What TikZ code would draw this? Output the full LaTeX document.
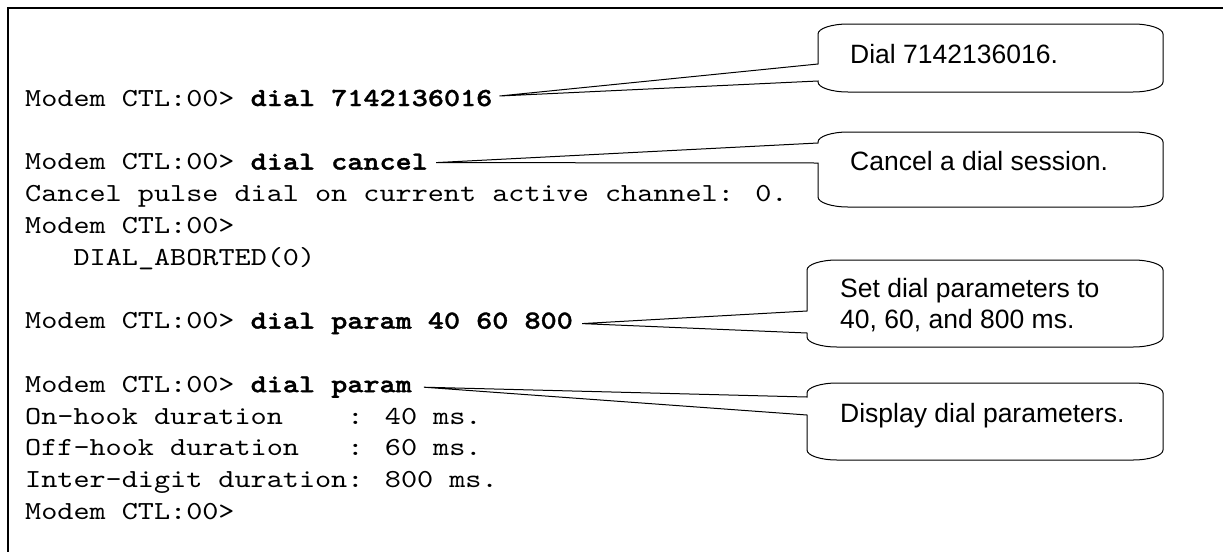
\documentclass[tikz,border=0pt]{standalone}
\usepackage{fontspec}
\setmainfont{Liberation Sans}
\newfontfamily\termfont[FakeStretch=1.18, BoldFont=lmmonolt10-bold.otf, BoldFeatures={FakeStretch=1.18, FakeBold=1.3}]{lmmono10-regular.otf}
\usetikzlibrary{calc}

\tikzset{
  term/.style={font=\termfont\fontsize{26}{31.8}\selectfont, inner sep=0pt, anchor=base west},
  note/.style={font=\fontsize{26.5}{31}\selectfont, inner sep=0pt, anchor=base west, align=left},
  balloon/.style={draw=black, line width=1pt, fill=white, line join=miter},
  frame/.style={line width=2pt}
}

% Rounded callout box with a wedge on its left side.
% #1 left, #2 top, #3 right, #4 bottom, #5 wedge top, #6 wedge bottom, #7 tip
\newcommand\balloonpath[7]{%
  \draw[balloon] (#1,#5) -- (#7) -- (#1,#6) -- (#1,#4-10)
    .. controls (#1,#4-4.5) and (#1+13.5,#4) .. (#1+30,#4)
    -- (#3-30,#4) .. controls (#3-13.5,#4) and (#3,#4-4.5) .. (#3,#4-10)
    -- (#3,#2+10) .. controls (#3,#2+4.5) and (#3-13.5,#2) .. (#3-30,#2)
    -- (#1+30,#2) .. controls (#1+13.5,#2) and (#1,#2+4.5) .. (#1,#2+10) -- cycle;}

\begin{document}
\begin{tikzpicture}[x=1pt, y=-1pt]
  \fill[white] (0,0) rectangle (1223,552);
  \useasboundingbox (0,0) rectangle (1223,552);

  % frame
  \draw[frame] (1223,8) -- (8,8) -- (8,552);

  % terminal session
  \node[term] (c1) at (25,106)   {Modem CTL:00> \textbf{dial 7142136016}};
  \node[term] (c2) at (25,169.6) {Modem CTL:00> \textbf{dial cancel}};
  \node[term] (r1) at (25,201.4) {Cancel pulse dial on current active channel: 0.};
  \node[term] (r2) at (25,233.2) {Modem CTL:00>};
  \node[term] (r3) at (73.4,265) {DIAL\_ABORTED(0)};
  \node[term] (c3) at (25,328.6) {Modem CTL:00> \textbf{dial param 40 60 800}};
  \node[term] (c4) at (25,392.2) {Modem CTL:00> \textbf{dial param}};
  \node[term] (r4) at (25,424)   {On-hook duration\hphantom{0000}: 40 ms.};
  \node[term] (r5) at (25,455.8) {Off-hook duration\hphantom{000}: 60 ms.};
  \node[term] (r6) at (25,487.6) {Inter-digit duration: 800 ms.};
  \node[term] (r7) at (25,519.4) {Modem CTL:00>};

  % callout tips
  \coordinate (t1) at ($(c1.base east)+(7,-10)$);
  \coordinate (t2) at ($(c2.base east)+(8,-7)$);
  \coordinate (t3) at ($(c3.base east)+(9,-5)$);
  \coordinate (t4) at ($(c4.base east)+(12,-5)$);

  % callouts
  \balloonpath{818}{24}{1163}{92}{64}{81}{t1}
  \balloonpath{818}{132}{1163}{207}{143}{163}{t2}
  \balloonpath{807}{260}{1163}{347}{311}{333}{t3}
  \balloonpath{807}{383}{1163}{460}{397}{415}{t4}

  \node[note] (n1) at (850,63)  {Dial 7142136016.};
  \node[note] (n2) at (850,170) {Cancel a dial session.};
  \node[note] (n3) at (840,328) {Set dial parameters to\\40, 60, and 800 ms.};
  \node[note] (n4) at (840,422) {Display dial parameters.};
\end{tikzpicture}
\end{document}
